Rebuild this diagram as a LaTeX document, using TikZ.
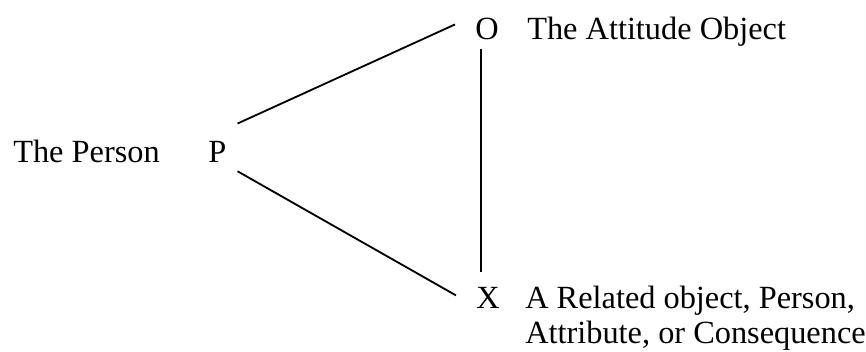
\documentclass[tikz,border=0pt]{standalone}
\usepackage{fontspec}
\setmainfont{Liberation Serif}
\usepackage{tikz}
\usetikzlibrary{positioning, calc}

\begin{document}
\begin{tikzpicture}[x=0.025cm, y=-0.025cm,
    lbl/.style={inner sep=0pt, anchor=base west, font=\fontsize{23}{24.9}\selectfont},
    link/.style={line width=1.3pt}]
  \useasboundingbox (0,0) rectangle (866,352);
  % the three points of the triangle
  \node[lbl] (P) at (208,163) {P};
  \node[lbl] (O) at (475,40) {O};
  \node[lbl] (X) at (476,309) {X};
  % what each point stands for
  \node[lbl] (person) at (13,163) {The Person};
  \node[lbl] (object) at (527,40) {The Attitude Object};
  \node[lbl, align=left] (related) at (525,344) {A Related object, Person,\\Attribute, or Consequence};
  % connectors
  \draw[link] ([shift={(11,-18)}]P.north east) -- ([shift={(-20,-5)}]O.west);
  \draw[link] ([shift={(11,8)}]P.south east) -- ([shift={(-20,-3)}]X.west);
  \draw[link] ([shift={(-6,8)}]O.south) -- ([shift={(-7,-16)}]X.north);
\end{tikzpicture}
\end{document}
